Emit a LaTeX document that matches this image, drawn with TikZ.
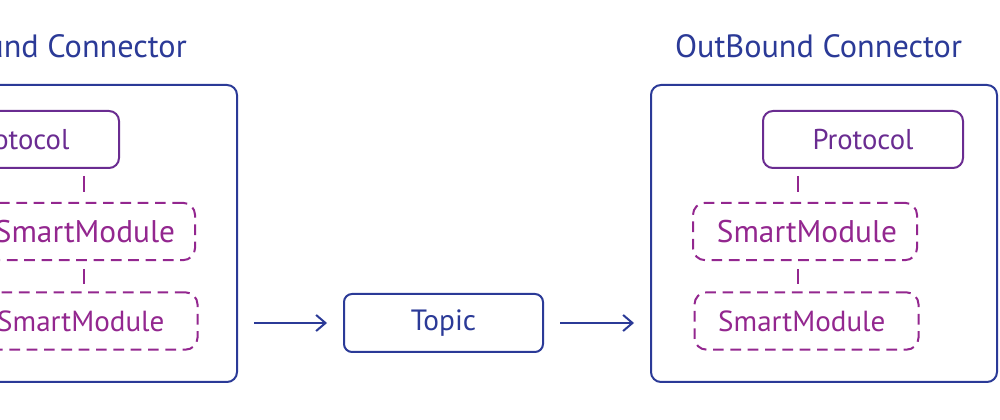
\documentclass[tikz,border=0pt]{standalone}
\usepackage{fontspec}
\setmainfont{PT Sans}
\usetikzlibrary{arrows.meta}
\definecolor{navy}{HTML}{2B3A97}
\definecolor{protopurple}{HTML}{6A2C91}
\definecolor{smpurple}{HTML}{93278F}
\tikzset{
  outerbox/.style={draw=navy, line width=1.5pt, rounded corners=7.5pt, minimum width=259.5pt, minimum height=222.75pt},
  protobox/.style={draw=protopurple, text=protopurple, line width=1.5pt, rounded corners=7.5pt, minimum width=150pt, minimum height=42.75pt, font=\fontsize{21.5}{24}\selectfont},
  smbox/.style={draw=smpurple, text=smpurple, line width=1.5pt, dash pattern=on 8pt off 5pt, rounded corners=9pt, minimum width=168pt, minimum height=43pt, inner sep=0pt},
  smA/.style={font=\fontsize{23.5}{26}\selectfont},
  smB/.style={font=\fontsize{21.8}{24}\selectfont},
  topicbox/.style={draw=navy, text=navy, line width=1.5pt, rounded corners=6pt, minimum width=149.25pt, minimum height=43.5pt, font=\fontsize{22}{25}\selectfont},
  titletext/.style={text=navy, inner sep=0pt, font=\fontsize{24.2}{28}\selectfont},
  link/.style={draw=smpurple, line width=1.5pt},
  flow/.style={draw=navy, line width=1.5pt, -{Straight Barb[length=7pt,width=12pt,line width=1.5pt]}, shorten <=12pt, shorten >=12pt}
}
\begin{document}
\begin{tikzpicture}[x=0.75pt, y=-0.75pt]
\useasboundingbox (0,0) rectangle (1000,420);
\clip (0,0) rectangle (1000,420);
% left connector
\node[outerbox] (L) at (64,233.5) {};
\node[titletext, anchor=base east] (LT) at (187,58) {InBound Connector};
\node[protobox] (LP) at (19,139.5) {Protocol};
\node[smbox, smA] (LS1) at (83,231.5) {\hspace*{3pt}SmartModule};
\node[smbox, smB] (LS2) at (85.5,321) {SmartModule\hspace*{7pt}};
\coordinate (lx) at (84,0);
\draw[link] ([yshift=-5.25pt]LP.south -| lx) -- ([yshift=7.5pt]LS1.north -| lx);
\draw[link] ([yshift=-6pt]LS1.south -| lx) -- ([yshift=5.25pt]LS2.north -| lx);
% topic
\node[topicbox] (T) at (443.5,323) {Topic};
% right connector
\node[outerbox] (R) at (824,233.5) {};
\node[titletext, anchor=base] (RT) at (818.5,58) {OutBound Connector};
\node[protobox] (RP) at (863,139.5) {Protocol};
\node[smbox, smA] (RS1) at (805,231.5) {\hspace*{3pt}SmartModule};
\node[smbox, smB] (RS2) at (806.5,321) {SmartModule\hspace*{7pt}};
\coordinate (rx) at (798,0);
\draw[link] ([yshift=-5.25pt]RP.south -| rx) -- ([yshift=7.5pt]RS1.north -| rx);
\draw[link] ([yshift=-6pt]RS1.south -| rx) -- ([yshift=5.25pt]RS2.north -| rx);
% flows
\draw[flow] (L.east |- T.west) -- (T.west);
\draw[flow] (T.east) -- (R.west |- T.east);
\end{tikzpicture}
\end{document}
